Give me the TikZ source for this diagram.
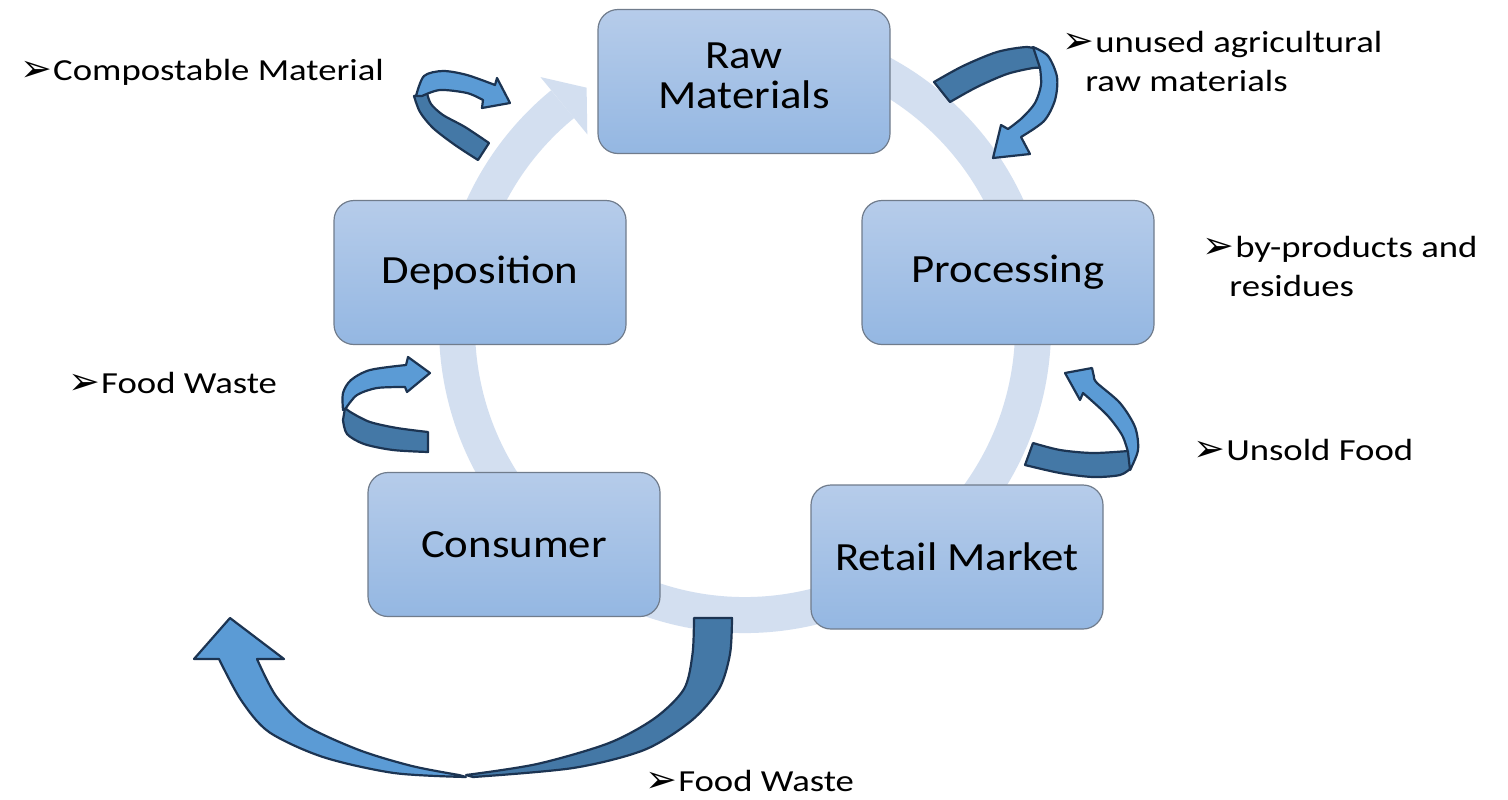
\documentclass[tikz,border=0pt]{standalone}
\usepackage{fontspec}
\setmainfont{Carlito}
\newfontfamily\boxfont[FakeStretch=1.12]{Carlito}
\newfontfamily\lblfont[FakeStretch=1.2]{Carlito}
\newfontfamily\bulfont{DejaVu Sans}
\usetikzlibrary{calc}
\definecolor{ringc}{RGB}{211,223,240}
\definecolor{boxtop}{RGB}{182,204,234}
\definecolor{boxbot}{RGB}{148,183,226}
\definecolor{boxline}{RGB}{112,124,140}
\definecolor{arrlight}{RGB}{91,155,213}
\definecolor{arrdark}{RGB}{68,120,166}
\definecolor{arrline}{RGB}{28,52,82}
\newcommand{\bul}{{\bulfont\fontsize{19}{19}\selectfont\raisebox{-0.5pt}{➢}}\hspace{0.5pt}}
\tikzset{
  stagebox/.style={draw=boxline, line width=0.6pt, rounded corners=10pt,
    top color=boxtop, bottom color=boxbot, minimum width=146pt, minimum height=72pt,
    inner sep=0pt, align=center, font=\boxfont\fontsize{20}{20}\selectfont},
  boxtext/.style={inner sep=0pt, align=center, font=\boxfont\fontsize{20}{20}\selectfont},
  lbl/.style={anchor=base west, inner sep=0pt, font=\lblfont\fontsize{15.3}{19.5}\selectfont},
  lightband/.style={fill=arrlight, draw=arrline, line width=1.1pt, line join=round},
  darkband/.style={fill=arrdark, draw=arrline, line width=1.1pt, line join=round},
  ringline/.style={draw=ringc, line width=18pt}
}
\begin{document}
\begin{tikzpicture}[x=0.5pt,y=-0.5pt]
\useasboundingbox (0,0) rectangle (1508,799);
\fill[white] (0,0) rectangle (1508,799);
% background cycle ring
\coordinate (C) at (745,327);
\draw[ringline] ($(C)+(-100:288)$) arc[start angle=-100, end angle=230.7, radius=288];
\fill[ringc] ($(C)+(230.7:323)$) -- ($(C)+(236.5:287)$) -- ($(C)+(230.7:249)$) -- cycle;
% stages
\node[stagebox] (raw) at (744,81.5) {};
\node[boxtext] (rawtxt) at (744,76) {Raw\\Materials};
\node[stagebox] (proc) at (1008,272.5) {Processing};
\node[stagebox] (retail) at (957,557) {Retail Market};
\node[stagebox] (cons) at (514,544.5) {Consumer};
\node[stagebox] (depo) at (480,272.5) {Deposition};
% curved arrow: compostable material
\filldraw[darkband] plot[smooth] coordinates {(414,96) (420,112) (433,128) (455,145) (478,160)}
  -- plot[smooth] coordinates {(489,143) (465,127) (443,115) (431,104) (427,93)} -- cycle;
\filldraw[lightband] plot[smooth] coordinates {(416,96) (424,76) (443,71) (467,75) (495,85)}
  -- (497,78) -- (510,103) -- (482,108)
  -- plot[smooth] coordinates {(483,100) (467,93) (440,90) (422,96)} -- cycle;
% curved arrow: unused agricultural raw materials
\filldraw[darkband] plot[smooth] coordinates {(934,82) (963,66) (997,52) (1027,47) (1040,51)}
  -- plot[smooth] coordinates {(1042,68) (1033,68) (1007,74) (977,87) (950,102)} -- cycle;
\filldraw[lightband] plot[smooth] coordinates {(1033,47) (1048,56) (1057,77) (1055,100) (1044,121) (1021,137)}
  -- (1030,154) -- (993,158) -- (1001,125)
  -- plot[smooth] coordinates {(1008,129) (1022,118) (1035,103) (1041,85) (1040,68)} -- cycle;
% curved arrow: food waste (left)
\filldraw[darkband] plot[smooth] coordinates {(428,432) (397,428) (370,422) (352,413) (345,408)}
  -- plot[smooth] coordinates {(343,420) (347,434) (364,444) (393,450) (428,452)} -- cycle;
\filldraw[lightband] plot[smooth] coordinates {(343,410) (343,393) (351,380) (370,370) (406,365)}
  -- (408,357) -- (430,373) -- (407,392)
  -- plot[smooth] coordinates {(405,387) (377,388) (357,395) (346,408)} -- cycle;
% curved arrow: unsold food
\filldraw[darkband] plot[smooth] coordinates {(1033,443) (1060,450) (1093,453) (1128,451)}
  -- plot[smooth] coordinates {(1131,468) (1120,475) (1093,477) (1060,473) (1025,465)} -- cycle;
\filldraw[lightband] plot[smooth] coordinates {(1130,470) (1138,450) (1135,427) (1120,403) (1097,383) (1094,377)}
  -- (1092,368) -- (1065,373) -- (1080,400)
  -- plot[smooth] coordinates {(1083,393) (1107,415) (1122,435) (1128,452)} -- cycle;
% big curved arrow: food waste (bottom)
\filldraw[darkband] plot[smooth] coordinates {(732,618) (730,654) (719,689) (691,721) (644,750) (573,768) (473,777)}
  -- plot[smooth] coordinates {(466,775) (537,764) (609,743) (655,718) (684,689) (692.5,654) (694,618)} -- cycle;
\filldraw[lightband] plot[smooth] coordinates {(466,777) (394,773) (323,757) (269,732) (241,700) (219,659)}
  -- (194,659) -- (230,618) -- (284,659)
  -- plot[smooth] coordinates {(257,659) (276,696) (305,725) (359,750) (412,766) (459,775)} -- cycle;
% labels
\node[lbl] (tcomp) at (20,80) {\bul Compostable Material};
\node[lbl] (tunused) at (1062,52) {\bul unused agricultural};
\node[lbl] (tunused2) at (1085,91) {raw materials};
\node[lbl] (tbyp) at (1202,257) {\bul by-products and};
\node[lbl] (tbyp2) at (1229,296) {residues};
\node[lbl] (tfood1) at (68,393) {\bul Food Waste};
\node[lbl] (tunsold) at (1193,460) {\bul Unsold Food};
\node[lbl] (tfood2) at (645,791) {\bul Food Waste};
\end{tikzpicture}
\end{document}
